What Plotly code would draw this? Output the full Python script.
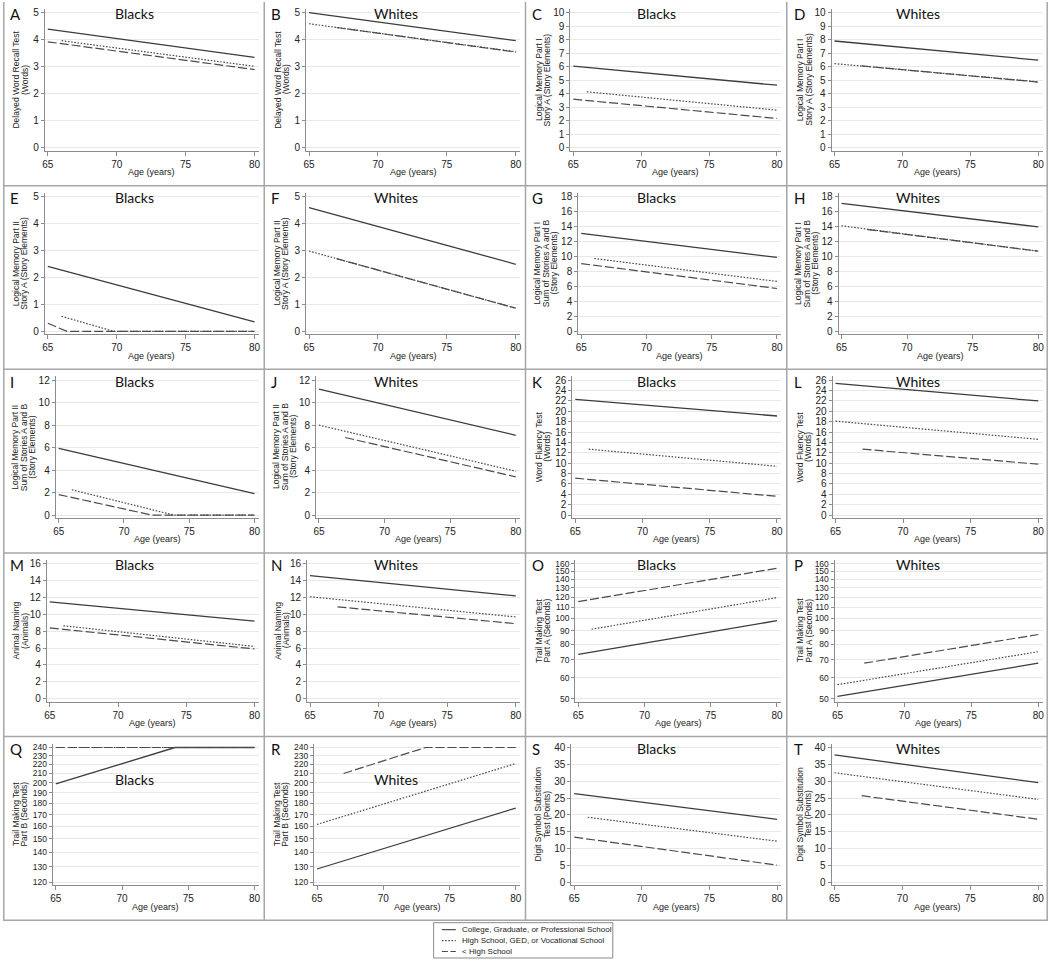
import plotly.graph_objects as go
import math

# ---------------- data ----------------
PANEL_LETTERS = list("ABCDEFGHIJKLMNOPQRST")
GROUP_LABELS = ["Blacks", "Whites"] * 10

Y_TITLE_LINES = [
    ["Delayed Word Recall Test", "(Words)"],
    ["Delayed Word Recall Test", "(Words)"],
    ["Logical Memory Part I", "Story A (Story Elements)"],
    ["Logical Memory Part I", "Story A (Story Elements)"],
    ["Logical Memory Part II", "Story A (Story Elements)"],
    ["Logical Memory Part II", "Story A (Story Elements)"],
    ["Logical Memory Part I", "Sum of Stories A and B", "(Story Elements)"],
    ["Logical Memory Part I", "Sum of Stories A and B", "(Story Elements)"],
    ["Logical Memory Part II", "Sum of Stories A and B", "(Story Elements)"],
    ["Logical Memory Part II", "Sum of Stories A and B", "(Story Elements)"],
    ["Word Fluency Test", "(Words)"],
    ["Word Fluency Test", "(Words)"],
    ["Animal Naming", "(Animals)"],
    ["Animal Naming", "(Animals)"],
    ["Trail Making Test", "Part A (Seconds)"],
    ["Trail Making Test", "Part A (Seconds)"],
    ["Trail Making Test", "Part B (Seconds)"],
    ["Trail Making Test", "Part B (Seconds)"],
    ["Digit Symbol Substitution", "Test (Points)"],
    ["Digit Symbol Substitution", "Test (Points)"],
]

X_TITLE = "Age (years)"
X_TICKS = [65, 70, 75, 80]

TICKS_0_5 = [0, 1, 2, 3, 4, 5]
TICKS_0_10 = [0, 1, 2, 3, 4, 5, 6, 7, 8, 9, 10]
TICKS_0_18 = [0, 2, 4, 6, 8, 10, 12, 14, 16, 18]
TICKS_0_12 = [0, 2, 4, 6, 8, 10, 12]
TICKS_0_26 = [0, 2, 4, 6, 8, 10, 12, 14, 16, 18, 20, 22, 24, 26]
TICKS_0_16 = [0, 2, 4, 6, 8, 10, 12, 14, 16]
TICKS_TMT_A = [50, 60, 70, 80, 90, 100, 110, 120, 130, 140, 150, 160]
TICKS_TMT_B = [120, 130, 140, 150, 160, 170, 180, 190, 200, 210, 220, 230, 240]
TICKS_0_40 = [0, 5, 10, 15, 20, 25, 30, 35, 40]

Y_TICKS = [TICKS_0_5, TICKS_0_5, TICKS_0_10, TICKS_0_10, TICKS_0_5, TICKS_0_5,
           TICKS_0_18, TICKS_0_18, TICKS_0_12, TICKS_0_12, TICKS_0_26, TICKS_0_26,
           TICKS_0_16, TICKS_0_16, TICKS_TMT_A, TICKS_TMT_A, TICKS_TMT_B, TICKS_TMT_B,
           TICKS_0_40, TICKS_0_40]
LOG_SCALE = [False] * 14 + [True] * 4 + [False] * 2

LEGEND_LABELS = ["College, Graduate, or Professional School",
                 "High School, GED, or Vocational School",
                 "< High School"]

# College, Graduate, or Professional School
COLLEGE_AGES = [[65, 80], [65, 80], [65, 80], [65, 80], [65, 80],
                [65, 80], [65, 80], [65, 80], [65, 80], [65, 80],
                [65, 80], [65, 80], [65, 80], [65, 80], [65, 80],
                [65, 80], [65, 74, 80], [65, 80], [65, 80], [65, 80]]
COLLEGE_SCORES = [[4.40, 3.35], [5.01, 3.97], [6.05, 4.64], [7.92, 6.50], [2.41, 0.35],
                  [4.59, 2.49], [13.1, 9.87], [17.1, 13.95], [5.93, 1.90], [11.2, 7.1],
                  [22.3, 19.1], [25.4, 22.0], [11.5, 9.2], [14.6, 12.2], [73.3, 98.0],
                  [51.0, 67.9], [199, 240, 240], [128.5, 175.8], [26.3, 18.7], [37.8, 29.6]]

# High School, GED, or Vocational School
HIGHSCHOOL_AGES = [[66, 80], [65, 80], [66, 80], [65, 80], [66, 69.8, 80],
                   [65, 80], [66, 80], [65, 80], [66, 73.8, 80], [65, 80],
                   [66, 80], [65, 80], [66, 80], [65, 80], [66, 80],
                   [65, 80], [66, 80], [65, 80], [66, 80], [65, 80]]
HIGHSCHOOL_SCORES = [[3.97, 3.02], [4.60, 3.56], [4.15, 2.79], [6.24, 4.89], [0.56, 0, 0],
                     [2.98, 0.86], [9.73, 6.67], [14.1, 10.7], [2.25, 0, 0], [8.0, 3.9],
                     [12.7, 9.4], [18.1, 14.6], [8.65, 6.2], [12.1, 9.7], [91.0, 119.5],
                     [56.4, 75.0], [240, 240], [161.6, 221.0], [19.3, 12.2], [32.5, 24.6]]

# < High School
LESS_HS_AGES = [[65, 80], [67, 80], [65, 80], [67, 80], [65, 66.4, 80],
                [67, 80], [65, 80], [67, 80], [65, 72.1, 80], [67, 80],
                [65, 80], [67, 80], [65, 80], [67, 80], [65, 80],
                [67, 80], [65, 80], [67, 73.2, 80], [65, 80], [67, 80]]
LESS_HS_SCORES = [[3.93, 2.90], [4.46, 3.55], [3.60, 2.17], [6.07, 4.87], [0.30, 0, 0],
                  [2.70, 0.86], [9.05, 5.73], [13.6, 10.72], [1.82, 0, 0], [6.9, 3.4],
                  [7.1, 3.6], [12.7, 9.8], [8.4, 5.9], [10.9, 8.9], [115.5, 154.0],
                  [67.9, 87.0], [240, 240], [210.0, 240, 240], [13.4, 5.1], [25.7, 18.7]]

# ---------------- layout / style ----------------
W, H = 1050, 963
COL_STARTS = [0, 262.5, 525, 787.5]
ROW_PITCH = 184.6
AXIS_LEFT = [42, 42, 45, 45, 42, 42, 53, 52, 53, 52,
             47, 46, 44, 43, 50, 48, 50, 50, 46, 45]
PLOT_RIGHT = 257
PLOT_TOP, PLOT_BOTTOM = 7, 149.5
TICK_TOP, TICK_BOTTOM = 11, 146.5

SANS = "Liberation Sans, Arial, sans-serif"
CAL = "Lato, Carlito, Calibri, sans-serif"

AXCOL = "#8c8c8c"
GRID = "#e8e8e8"
LINECOL = "#3c3c3c"

def px(x):
    return x / W

def py(y):
    return 1 - y / H

fig = go.Figure()
layout = dict(width=W, height=H, margin=dict(l=0, r=0, t=0, b=0),
              paper_bgcolor="white", plot_bgcolor="white", showlegend=False)
annotations = []
shapes = []

series = [
    (COLLEGE_AGES, COLLEGE_SCORES, dict(color=LINECOL, width=1.3, dash="solid")),
    (HIGHSCHOOL_AGES, HIGHSCHOOL_SCORES, dict(color="#4a4a4a", width=1.2, dash="1.6px,1.6px")),
    (LESS_HS_AGES, LESS_HS_SCORES, dict(color="#4a4a4a", width=1.2, dash="9px,3px")),
]
LEGEND_DASH = ["solid", "1.6px,1.6px", "6px,2.5px"]

for i in range(20):
    r, c = divmod(i, 4)
    x0 = COL_STARTS[c]
    y0 = r * ROW_PITCH
    L = AXIS_LEFT[i]
    n = i + 1
    xa = "x" if n == 1 else f"x{n}"
    ya = "y" if n == 1 else f"y{n}"
    xkey = "xaxis" if n == 1 else f"xaxis{n}"
    ykey = "yaxis" if n == 1 else f"yaxis{n}"

    for ages, scores, st in series:
        fig.add_trace(go.Scatter(x=ages[i], y=scores[i], mode="lines", line=st,
                                 xaxis=xa, yaxis=ya, hoverinfo="skip", showlegend=False))

    # x axis
    first = L + 3
    ppy = (252.7 - first) / 15
    xr = [65 - 3 / ppy, 80 + (PLOT_RIGHT - 252.7) / ppy]
    layout[xkey] = dict(domain=[px(x0 + L), px(x0 + PLOT_RIGHT)], range=xr,
                        anchor=ya, tickvals=X_TICKS, ticks="outside", ticklen=4,
                        tickcolor=AXCOL, showline=True, linecolor=AXCOL, linewidth=1,
                        showgrid=False, zeroline=False, fixedrange=True,
                        tickfont=dict(family=SANS, size=10, color="#222"))
    # y axis
    tv = Y_TICKS[i]
    if LOG_SCALE[i]:
        tmin, tmax = math.log10(tv[0]), math.log10(tv[-1])
    else:
        tmin, tmax = tv[0], tv[-1]
    ppu = (TICK_BOTTOM - TICK_TOP) / (tmax - tmin)
    yr = [tmin - (PLOT_BOTTOM - TICK_BOTTOM) / ppu, tmax + (TICK_TOP - PLOT_TOP) / ppu]
    layout[ykey] = dict(domain=[py(y0 + PLOT_BOTTOM), py(y0 + PLOT_TOP)], range=yr,
                        type="log" if LOG_SCALE[i] else "linear",
                        anchor=xa, tickvals=tv, ticktext=[str(v) for v in tv],
                        ticks="outside", ticklen=3, tickcolor=AXCOL,
                        showline=True, linecolor=AXCOL, linewidth=1, fixedrange=True,
                        showgrid=True, gridcolor=GRID, gridwidth=1, zeroline=False,
                        tickfont=dict(family=SANS, size=8.5 if LOG_SCALE[i] else 10,
                                      color="#222"))

    # panel letter
    annotations.append(dict(text=PANEL_LETTERS[i], x=px(x0 + 5), y=py(y0 + 12.5),
                            xref="paper", yref="paper", xanchor="left", yanchor="middle",
                            showarrow=False, font=dict(family=CAL, size=15, color="#111")))
    # group label
    gy = 43.5 if PANEL_LETTERS[i] in ("Q", "R") else 12
    annotations.append(dict(text=GROUP_LABELS[i], x=px(x0 + 132), y=py(y0 + gy),
                            xref="paper", yref="paper", xanchor="center", yanchor="middle",
                            showarrow=False, font=dict(family=CAL, size=14, color="#111")))
    # y title lines
    lines = Y_TITLE_LINES[i]
    pos = [13, 21.5] if len(lines) == 2 else [12, 20.5, 29]
    for k, t in enumerate(lines):
        annotations.append(dict(text=t, x=px(x0 + pos[k]), y=py(y0 + 78),
                                xref="paper", yref="paper", xanchor="center",
                                yanchor="middle", textangle=-90, showarrow=False,
                                font=dict(family=SANS, size=8.5, color="#222")))
    # x title
    annotations.append(dict(text=X_TITLE, x=px(x0 + (L + PLOT_RIGHT) / 2), y=py(y0 + 171),
                            xref="paper", yref="paper", xanchor="center", yanchor="middle",
                            showarrow=False, font=dict(family=SANS, size=9, color="#222")))

# separators
BORDER = "#a6a6a6"
GRID_BOTTOM = 5 * ROW_PITCH
for xs in [0.8, 262.5, 525, 787.5, 1049.2]:
    shapes.append(dict(type="line", xref="paper", yref="paper", x0=px(xs), x1=px(xs),
                       y0=py(0), y1=py(GRID_BOTTOM), line=dict(color=BORDER, width=1.5)))
for r in range(1, 6):
    yy = r * ROW_PITCH
    shapes.append(dict(type="line", xref="paper", yref="paper", x0=0, x1=1,
                       y0=py(yy), y1=py(yy), line=dict(color=BORDER, width=1.5)))

# legend (manual key box)
LX0, LX1, LY0, LY1 = 432.7, 612.7, 925.5, 961
shapes.append(dict(type="rect", xref="paper", yref="paper", x0=px(LX0), x1=px(LX1),
                   y0=py(LY1), y1=py(LY0), line=dict(color="#8a8a8a", width=1),
                   fillcolor="white"))
for k, (lab, (_, _, st)) in enumerate(zip(LEGEND_LABELS, series)):
    yy = 932.5 + k * 11
    shapes.append(dict(type="line", xref="paper", yref="paper", x0=px(441), x1=px(455),
                       y0=py(yy), y1=py(yy), line=dict(color=st["color"], width=1.1,
                                                      dash=LEGEND_DASH[k])))
    annotations.append(dict(text=lab, x=px(459), y=py(yy), xref="paper", yref="paper",
                            xanchor="left", yanchor="middle", showarrow=False,
                            font=dict(family=SANS, size=8, color="#222")))

layout["annotations"] = annotations
layout["shapes"] = shapes
fig.update_layout(**layout)
fig.write_html("out.html", config={"displayModeBar": False},
               post_script="document.body.style.margin='0';"
                           "document.body.style.overflow='hidden';")
